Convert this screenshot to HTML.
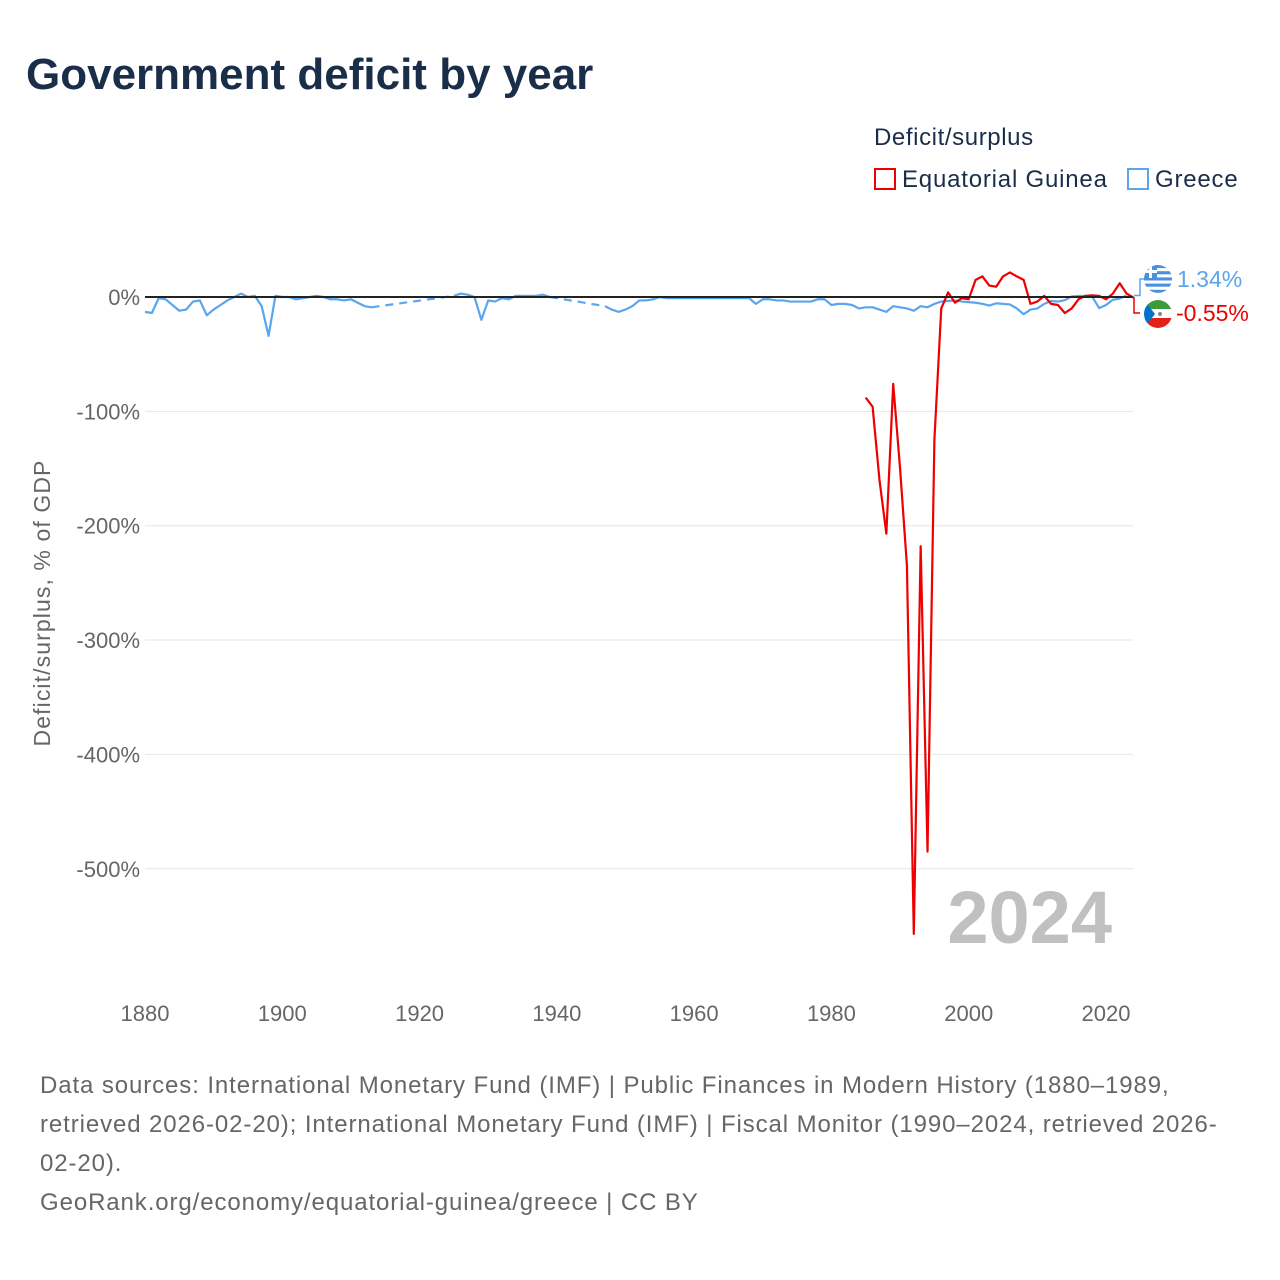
<!DOCTYPE html>
<html><head><meta charset="utf-8">
<style>
body{margin:0;background:#fff;font-family:"Liberation Sans",sans-serif}
#wrap{position:relative;width:1280px;height:1280px;overflow:hidden}
.t{position:absolute;white-space:nowrap}
</style></head>
<body>
<div id="wrap">
<div class="t" style="left:26px;top:50px;font-size:44px;font-weight:bold;color:#1a2e4a">Government deficit by year</div>
<div class="t" style="left:874px;top:124px;font-size:24px;color:#1a2e4a;letter-spacing:0.6px">Deficit/surplus</div>
<div class="t" style="left:874px;top:166px;font-size:24px;color:#1a2e4a;letter-spacing:0.8px"><span style="display:inline-block;width:22px;height:22px;border:2px solid #e00;box-sizing:border-box;vertical-align:-3px;margin-right:6px"></span>Equatorial Guinea</div>
<div class="t" style="left:1127px;top:166px;font-size:24px;color:#1a2e4a;letter-spacing:0.8px"><span style="display:inline-block;width:22px;height:22px;border:2px solid #5aa5ee;box-sizing:border-box;vertical-align:-3px;margin-right:6px"></span>Greece</div>
<svg id="chart" width="1280" height="1280" style="position:absolute;left:0;top:0"></svg>
<div class="t" style="left:40px;top:1066px;font-size:24px;line-height:39px;color:#666;white-space:normal;width:1200px;letter-spacing:0.9px">Data sources: International Monetary Fund (IMF) | Public Finances in Modern History (1880–1989, retrieved 2026-02-20); International Monetary Fund (IMF) | Fiscal Monitor (1990–2024, retrieved 2026-02-20).<br>GeoRank.org/economy/equatorial-guinea/greece | CC BY</div>
</div>
<script>
const yTicks=[0,-100,-200,-300,-400,-500];
const xTicks=[1880,1900,1920,1940,1960,1980,2000,2020];
const greeceYears=[];for(let y=1880;y<=2024;y++)greeceYears.push(y);
const greeceValues=[-13,-14,-1,-2,-7,-12,-11,-4,-3,-16,-11,-7,-3,0,3,0,1,-8,-34,1,0,0,-2,-1,0,1,0,-2,-2,-3,-2,-5,-8,-9,
null,null,null,null,null,null,null,null,null,null,null,1,3,2,0,-20,-3,-4,-1,-2,1,1,1,1,2,0,
null,null,null,null,null,null,null,-8,-11,-13,-11,-8,-3,-3,-2,0,-1,-1,-1,-1,-1,-1,-1,-1,-1,-1,-1,-1,-1,-6,-2,-2,-3,-3,-4,-4,-4,-4,-2,-2,-7,-6,-6,-7,-10,-9,-9,-11,-13,-8,-9,-10,-12,-8,-9,-6,-4,-3.5,-3,-4,-4.5,-5,-6,-7.5,-5.5,-6,-6.5,-10,-15.1,-11,-10,-6,-3.5,-4,-2.8,0.5,0.9,0.9,0.2,-9.7,-7,-2.4,-1.3,1.34];
const egYears=[];for(let y=1985;y<=2024;y++)egYears.push(y);
const egValues=[-88,-96,-160,-207,-76,-150,-235,-557,-218,-485,-125,-10,4,-5,-1,-2,15,18,10,9,18,21.5,18,15,-6,-4,1,-6,-7,-14,-10,-2,1,1.5,1,-2,3,12,3,-0.55];
const x=y=>145+(y-1880)*(961/140);
const yv=v=>297-v*1.1435;
const svg=document.getElementById('chart');const NS='http://www.w3.org/2000/svg';
function mk(t,a,txt){const e=document.createElementNS(NS,t);for(const k in a)e.setAttribute(k,a[k]);if(txt!=null)e.textContent=txt;svg.appendChild(e);return e;}
yTicks.forEach(v=>{
 if(v!==0){const g=mk('line',{x1:145,x2:1133,y1:yv(v),y2:yv(v),stroke:'#e6e6e6','stroke-width':1});
 }
 const t=mk('text',{x:140,y:yv(v)+8,'text-anchor':'end','font-size':22,fill:'#666','font-family':'Liberation Sans'},v+'%');
 
});
xTicks.forEach(yr=>{const t=mk('text',{x:x(yr),y:1021,'text-anchor':'middle','font-size':22,fill:'#666','font-family':'Liberation Sans'},yr);
 });
const yt=mk('text',{transform:'translate(50,603) rotate(-90)','text-anchor':'middle','font-size':23,fill:'#666','font-family':'Liberation Sans','letter-spacing':'1.1'},'Deficit/surplus, % of GDP');

const yr=mk('text',{x:1112,y:943,'text-anchor':'end','font-size':74,'font-weight':'bold',fill:'#c0c0c0','font-family':'Liberation Sans'},'2024');

function series(years,vals,color,name){
 let seg=[],last=null;const solid=[],dashes=[];
 years.forEach((yy,i)=>{const v=vals[i];if(v==null){if(seg.length)solid.push(seg);seg=[];return;}
  const p=[x(yy),yv(v)];
  if(seg.length===0&&last&&last.i<i-1)dashes.push([last.p,p]);
  seg.push(p);last={i,p};});
 if(seg.length)solid.push(seg);
 solid.forEach(s=>{const e=mk('polyline',{points:s.map(p=>p.join(',')).join(' '),fill:'none',stroke:color,'stroke-width':2.2,'stroke-linejoin':'round'});
  });
 dashes.forEach(d=>{const e=mk('line',{x1:d[0][0],y1:d[0][1],x2:d[1][0],y2:d[1][1],stroke:color,'stroke-width':2.2,'stroke-dasharray':'8,6'});
  });
}
series(greeceYears,greeceValues,'#5aa5ee','greece');
series(egYears,egValues,'#ee0000','equatorial-guinea');
const z=mk('line',{x1:145,x2:1133,y1:297,y2:297,stroke:'#222','stroke-width':2});

const gEnd=yv(greeceValues[greeceValues.length-1]),eEnd=yv(egValues[egValues.length-1]);
const c1=mk('path',{d:`M1134,${gEnd} h6 V279 h6`,fill:'none',stroke:'#5aa5ee','stroke-width':1.5});

const c2=mk('path',{d:`M1134,${eEnd} h-2 M1134,297 V313 h6`,fill:'none',stroke:'#ee0000','stroke-width':1.5});

const gf=mk('g',{});
const defs=document.createElementNS(NS,'defs');defs.innerHTML='<clipPath id="c1"><circle cx="1158" cy="279" r="14"/></clipPath><clipPath id="c2"><circle cx="1158" cy="314" r="14"/></clipPath>';svg.appendChild(defs);
let fg='<g clip-path="url(#c1)"><rect x="1144" y="265" width="28" height="28" fill="#fff"/>';
for(let i=0;i<5;i++)fg+=`<rect x="1144" y="${265+i*6.2}" width="28" height="3.1" fill="#4b8fe0"/>`;
fg+='<rect x="1144" y="265" width="13" height="13" fill="#4b8fe0"/><rect x="1149" y="265" width="3" height="13" fill="#fff"/><rect x="1144" y="270" width="13" height="3" fill="#fff"/></g>';
gf.innerHTML=fg;
const ef=mk('g',{});
ef.innerHTML='<g clip-path="url(#c2)"><rect x="1144" y="300" width="28" height="10" fill="#3e9a3a"/><rect x="1144" y="309" width="28" height="10" fill="#fff"/><rect x="1144" y="318" width="28" height="10" fill="#e32118"/><polygon points="1144,300 1155,314 1144,328" fill="#0073ce"/><circle cx="1160" cy="314" r="2" fill="#888"/></g>';
const l1=mk('text',{x:1177,y:287,'font-size':23,fill:'#5aa5ee','font-family':'Liberation Sans'},'1.34%');

const l2=mk('text',{x:1176,y:321,'font-size':23,fill:'#ee0000','font-family':'Liberation Sans'},'-0.55%');

</script>
</body></html>
